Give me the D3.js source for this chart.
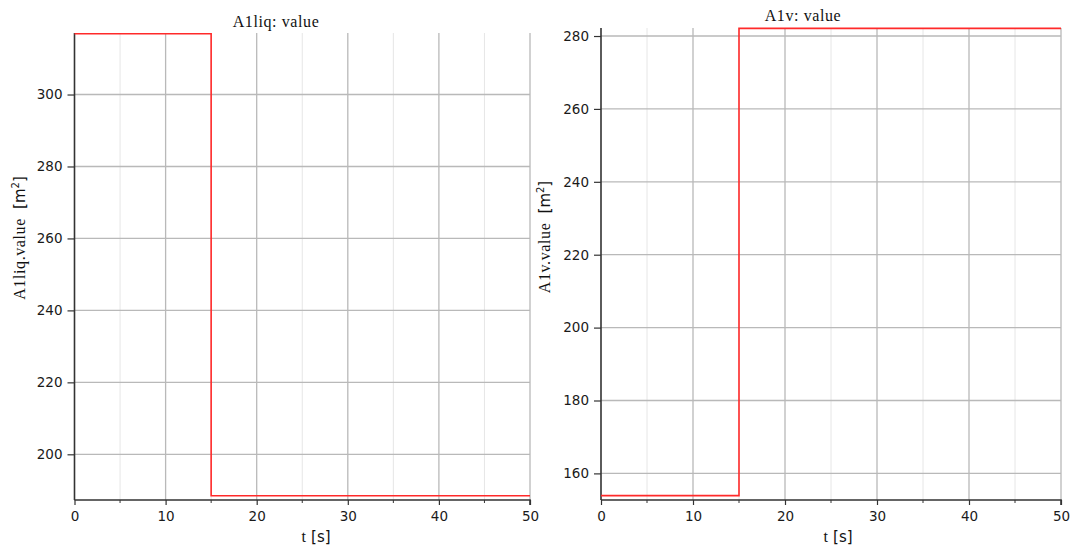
<!DOCTYPE html>
<html>
<head>
<style>
  body { margin: 0; background: #fff; }
  .tick text { font-family: "DejaVu Sans", sans-serif; font-size: 13.5px; fill: #1a1a1a; }
  .title, .ylab, .xlab { font-family: "Liberation Serif", serif; font-size: 16px; fill: #111; letter-spacing: 0.6px; }
  .unit { font-family: "DejaVu Sans", sans-serif; letter-spacing: 0; font-size: 15px; }
</style>
</head>
<body>
<script src="https://d3js.org/d3.v7.min.js"></script>
<svg width="1075" height="549"></svg>
<script>
// step input times and values
var time = [0, 15, 50];
var a1liq = [316.9, 188.5, 188.5];
var a1v = [153.9, 282.1, 282.1];

var leftYTicks = [200, 220, 240, 260, 280, 300];
var rightYTicks = [160, 180, 200, 220, 240, 260, 280];
var xTicks = [0, 10, 20, 30, 40, 50];

var svg = d3.select("svg");

function panel(opt) {
    var x = d3.scaleLinear().domain([0, 50]).range([opt.x0, opt.x1]);
    var y = d3.scaleLinear().domain(opt.ydom).range([500, opt.top]);
    var g = svg.append("g");

    var minorX = d3.range(5, 50, 10);
    var minorY = d3.range(opt.ydom[0], opt.ydom[1], 1).filter(function(v) { return v % 20 === 10; });

    // minor grid
    g.selectAll(".mx").data(minorX).enter().append("line")
        .attr("x1", x).attr("x2", x).attr("y1", opt.top).attr("y2", 500)
        .attr("stroke", "#e6e6e6").attr("stroke-width", 1);
    g.selectAll(".my").data(minorY).enter().append("line")
        .attr("x1", opt.x0).attr("x2", opt.x1).attr("y1", y).attr("y2", y)
        .attr("stroke", "#e6e6e6").attr("stroke-width", 1);
    // major grid
    g.selectAll(".gx").data(xTicks.slice(1)).enter().append("line")
        .attr("x1", x).attr("x2", x).attr("y1", opt.top).attr("y2", 500)
        .attr("stroke", "#b9b9b9").attr("stroke-width", 1.3);
    g.selectAll(".gy").data(opt.yticks).enter().append("line")
        .attr("x1", opt.x0).attr("x2", opt.x1).attr("y1", y).attr("y2", y)
        .attr("stroke", "#b9b9b9").attr("stroke-width", 1.3);

    // axes
    var xa = g.append("g").attr("transform", "translate(0,500)")
        .call(d3.axisBottom(x).tickValues(xTicks).tickSize(5).tickPadding(6).tickFormat(d3.format("d")));
    xa.append("g").selectAll("line").data(minorX).enter().append("line")
        .attr("x1", x).attr("x2", x).attr("y1", 0).attr("y2", 3).attr("stroke", "#333");
    var ya = g.append("g").attr("transform", "translate(" + opt.x0 + ",0)")
        .call(d3.axisLeft(y).tickValues(opt.yticks).tickSize(7).tickPadding(5).tickFormat(d3.format("d")));
    ya.append("g").selectAll("line").data(minorY).enter().append("line")
        .attr("x1", -3).attr("x2", 0).attr("y1", y).attr("y2", y).attr("stroke", "#333");
    [xa, ya].forEach(function(a) {
        a.select(".domain").attr("stroke", "#333").attr("stroke-width", 1.6);
        a.selectAll(".tick line").attr("stroke", "#333").attr("stroke-width", 1.2);
    });
    ya.select(".domain").attr("d", "M0," + opt.top + "V500");
    xa.select(".domain").attr("d", "M" + opt.x0 + ",0H" + opt.x1 + "V5");

    // signal
    var line = d3.line().curve(d3.curveStepAfter)
        .x(function(d, i) { return x(time[i]); })
        .y(function(d) { return y(d); });
    g.append("path").datum(opt.values)
        .attr("d", line).attr("fill", "none")
        .attr("stroke", "#ff2a2a").attr("stroke-width", 1.6);

    // texts
    g.append("text").attr("class", "title").attr("x", opt.titleX).attr("y", opt.titleY)
        .attr("text-anchor", "middle").text(opt.title);
    var yl = g.append("text").attr("class", "ylab").attr("text-anchor", "middle")
        .attr("transform", "translate(" + opt.ylabX + "," + opt.ylabY + ") rotate(-90)");
    yl.append("tspan").text(opt.ylab + "\u00a0\u00a0");
    var u = yl.append("tspan").attr("class", "unit").text("[m");
    u.append("tspan").attr("dy", -6).attr("font-size", 10).text("2");
    yl.append("tspan").attr("class", "unit").attr("dy", 6).text("]");
    var xl = g.append("text").attr("class", "xlab").attr("text-anchor", "middle")
        .attr("x", opt.xlabX).attr("y", 542);
    xl.append("tspan").text("t\u00a0");
    xl.append("tspan").attr("class", "unit").text("[s]");
}

panel({ x0: 74.5, x1: 530, top: 33, ydom: [187.3, 317.1], yticks: leftYTicks, values: a1liq,
        title: "A1liq: value", titleX: 276, titleY: 27, ylab: "A1liq.value", ylabX: 25, ylabY: 238, xlabX: 316 });
panel({ x0: 601, x1: 1061, top: 28, ydom: [152.7, 282.2], yticks: rightYTicks, values: a1v,
        title: "A1v: value", titleX: 803, titleY: 21, ylab: "A1v.value", ylabX: 550, ylabY: 237, xlabX: 838 });
</script>
</body>
</html>
